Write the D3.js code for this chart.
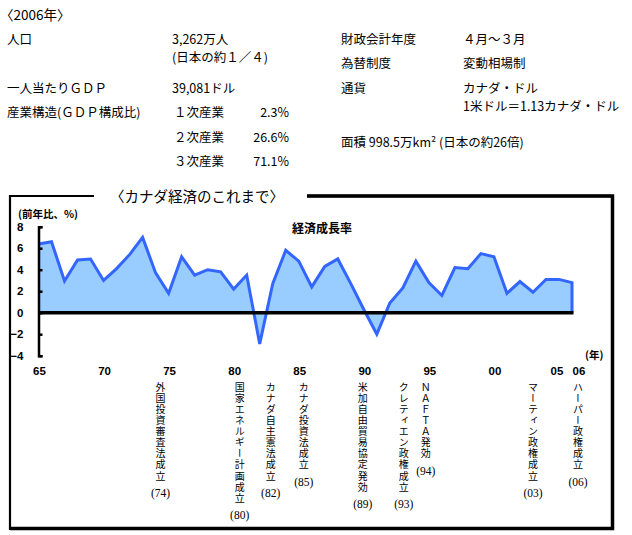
<!DOCTYPE html>
<html><head><meta charset="utf-8">
<script src="https://cdn.jsdelivr.net/npm/d3@7"></script>
<style>
body{margin:0;background:#fff}
svg{display:block}
text{font-family:"Noto Sans CJK JP",sans-serif;fill:#000}
</style></head><body>
<svg id="c" width="632" height="535"></svg>
<script>
// ---- data ----
const years = [1965,1966,1967,1968,1969,1970,1971,1972,1973,1974,1975,1976,1977,1978,1979,1980,1981,1982,1983,1984,1985,1986,1987,1988,1989,1990,1991,1992,1993,1994,1995,1996,1997,1998,1999,2000,2001,2002,2003,2004,2005,2006];
const growth = [6.4,6.6,2.95,4.9,5.0,3.0,4.1,5.4,7.0,3.7,1.8,5.2,3.5,4.0,3.8,2.2,3.5,-2.9,2.7,5.8,4.8,2.4,4.3,5.0,2.7,0.3,-2.0,0.9,2.3,4.8,2.8,1.6,4.2,4.1,5.5,5.2,1.8,2.9,1.9,3.1,3.1,2.8];
const yTicks = [8,6,4,2,0,-2,-4];
const xTickYears = [1965,1970,1975,1980,1985,1990,1995,2000,2005,2006];
const xTickLabels = ["65","70","75","80","85","90","95","00","05","06"];
const eventYears = [1974,1980,1982,1985,1989,1993,1994,2003,2006];
const eventTexts = ["外国投資審査法成立","国家エネルギー計画成立","カナダ自主憲法成立","カナダ投資法成立","米加自由貿易協定発効","クレティエン政権成立","ＮＡＦＴＡ発効","マーティン政権成立","ハーパー政権成立"];
const eventYearLabels = ["(74)","(80)","(82)","(85)","(89)","(93)","(94)","(03)","(06)"];
const headerTitle = "〈2006年〉";
const chartFrameTitle = "〈カナダ経済のこれまで〉";
const seriesTitle = "経済成長率";
const yUnit = "(前年比、%)";
const xUnit = "(年)";
const infoLeftLabels = ["人口","一人当たりＧＤＰ","産業構造(ＧＤＰ構成比)"];
const infoLeftValues = ["3,262万人","(日本の約１／４)","39,081ドル"];
const industryNames = ["１次産業","２次産業","３次産業"];
const industryShares = ["2.3%","26.6%","71.1%"];
const infoRightLabels = ["財政会計年度","為替制度","通貨"];
const infoRightValues = ["４月～３月","変動相場制","カナダ・ドル","1米ドル＝1.13カナダ・ドル"];
const areaText = "面積 998.5万km² (日本の約26倍)";

// ---- layout ----
const eventDx = [5,6,11,5,12,1,10,0,6];
const svg = d3.select("#c");

// header info
const info = svg.append("g").style("font-size","12.5px").attr("dominant-baseline","central");
info.append("text").attr("x",0).attr("y",14).style("font-size","13.5px").text(headerTitle);
const leftLabelY = [38,87,111];
infoLeftLabels.forEach((t,i)=>info.append("text").attr("x",7).attr("y",leftLabelY[i]).text(t));
const leftValY = [38,56,87];
infoLeftValues.forEach((t,i)=>info.append("text").attr("x",172).attr("y",leftValY[i]).text(t));
const indY = [111,136,160];
industryNames.forEach((t,i)=>info.append("text").attr("x",174).attr("y",indY[i]).text(t));
industryShares.forEach((t,i)=>info.append("text").attr("x",289).attr("y",indY[i]).attr("text-anchor","end").text(t));
const rightLabelY = [38,62,87];
infoRightLabels.forEach((t,i)=>info.append("text").attr("x",341).attr("y",rightLabelY[i]).text(t));
const rightValY = [38,62,87,105];
infoRightValues.forEach((t,i)=>info.append("text").attr("x",463).attr("y",rightValY[i]).text(t));
info.append("text").attr("x",341).attr("y",141).text(areaText);

// frame
svg.append("path").attr("d","M10,530V196H94").attr("fill","none").attr("stroke","#000").attr("stroke-width",2.2);
svg.append("path").attr("d","M307,196H612.5V528.5H10").attr("fill","none").attr("stroke","#000").attr("stroke-width",3.5);
svg.append("path").attr("d","M307,196H611").attr("stroke","#000").attr("stroke-width",2.5);
svg.append("text").attr("x",197).attr("y",195).attr("text-anchor","middle").attr("dominant-baseline","central")
  .style("font-size","14.5px").text(chartFrameTitle);

// scales
const x = d3.scaleLinear().domain([1965,2006]).range([38.5,572]);
const y = d3.scaleLinear().domain([-4,8]).range([355.7,226.7]);

// area + line
const pts = years.map((yr,i)=>[yr,growth[i]]);
svg.append("path").datum(pts)
  .attr("d", d3.area().x(d=>x(d[0])).y0(y(0)).y1(d=>y(d[1])))
  .attr("fill","#99ccff");
svg.append("path").datum(pts.concat([[years[years.length-1],0]]))
  .attr("d", d3.line().x(d=>x(d[0])).y(d=>y(d[1])))
  .attr("fill","none").attr("stroke","#3366ff").attr("stroke-width",3).attr("stroke-linejoin","miter");

// zero line
svg.append("line").attr("x1",x(1965)).attr("x2",x(2006)+1.5).attr("y1",y(0)).attr("y2",y(0))
  .attr("stroke","#000").attr("stroke-width",3.5);

// y axis
const ya = svg.append("g").attr("transform","translate(38.5,0)")
  .call(d3.axisLeft(y).tickValues(yTicks).tickSize(-4).tickPadding(15).tickFormat(d3.format("d")));
ya.selectAll("path,line").attr("stroke","#000").attr("stroke-width",2.5);
ya.selectAll("text").style("font-family","'Liberation Sans',Arial,sans-serif").style("font-size","11.5px").style("font-weight","bold");

// axis labels
svg.append("text").attr("x",18).attr("y",213).attr("dominant-baseline","central")
  .style("font-size","10.5px").style("font-weight","bold").text(yUnit);
svg.append("text").attr("x",292).attr("y",227).attr("dominant-baseline","central")
  .style("font-size","12px").style("font-weight","bold").text(seriesTitle);
svg.append("text").attr("x",585).attr("y",354).attr("dominant-baseline","central")
  .style("font-size","10.5px").style("font-weight","bold").text(xUnit);

// x tick labels
svg.append("g").selectAll("text").data(xTickYears).join("text")
  .attr("x",(d,i)=>x(d)+(d===2006?7:(d===2005?-2:1)))
  .attr("y",371).attr("text-anchor","middle").attr("dominant-baseline","central")
  .style("font-family","'Liberation Sans',Arial,sans-serif").style("font-size","11.5px").style("font-weight","bold")
  .text((d,i)=>xTickLabels[i]);

// events
eventYears.forEach((yr,i)=>{
  const cx = x(yr)+eventDx[i];
  const t = svg.append("text").attr("x",cx).attr("y",382)
    .style("writing-mode","vertical-rl").style("text-orientation","upright")
    .style("font-size","10px").style("letter-spacing","1.1px").text(eventTexts[i]);
  const bb = t.node().getBBox();
  svg.append("text").attr("x",cx).attr("y",bb.y+bb.height+11).attr("text-anchor","middle").attr("dominant-baseline","central")
    .style("font-family","'Liberation Serif',serif").style("font-size","11.5px").text(eventYearLabels[i]);
});
</script>
</body></html>
